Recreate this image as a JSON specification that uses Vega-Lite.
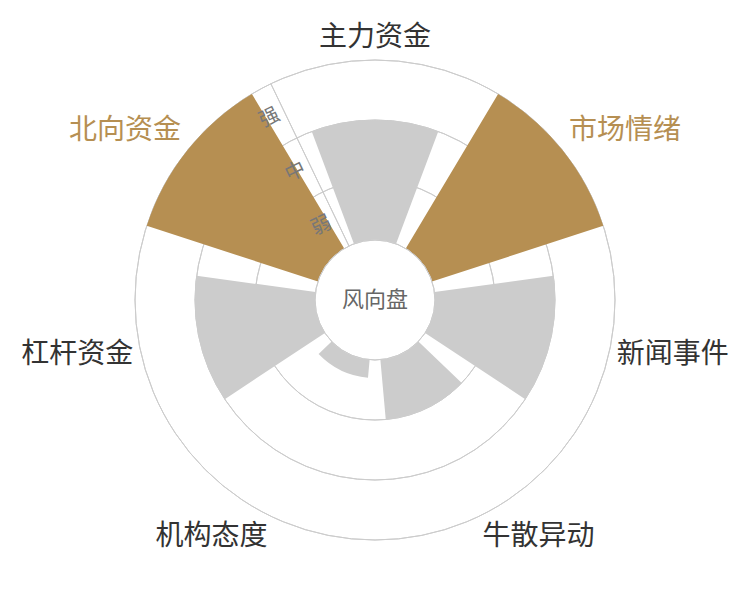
{
  "$schema": "https://vega.github.io/schema/vega-lite/v6.json",
  "width": 750,
  "height": 600,
  "autosize": {"type": "fit", "contains": "padding"},
  "padding": 0,
  "background": "white",
  "config": {
    "view": {"stroke": null},
    "text": {"font": "Noto Sans CJK SC"}
  },
  "datasets": {
    "dims": [
      {"name": "主力资金", "value": 2},
      {"name": "市场情绪", "value": 3},
      {"name": "新闻事件", "value": 2},
      {"name": "牛散异动", "value": 1},
      {"name": "机构态度", "value": 0.3},
      {"name": "杠杆资金", "value": 2},
      {"name": "北向资金", "value": 3}
    ],
    "levels": [
      {"level": 1, "label": "弱"},
      {"level": 2, "label": "中"},
      {"level": 3, "label": "强"}
    ],
    "center": [{"title": "风向盘"}]
  },
  "layer": [
    {
      "data": {"name": "levels"},
      "mark": {"type": "arc", "filled": false, "stroke": "#cccccc", "strokeWidth": 1, "theta": 0, "theta2": 6.2832},
      "encoding": {
        "radius": {"field": "level", "type": "quantitative", "scale": {"type": "linear", "domain": [0, 3], "range": [60, 240], "zero": false, "nice": false}},
        "radius2": {"field": "level"}
      }
    },
    {
      "data": {"name": "center"},
      "mark": {"type": "arc", "filled": false, "stroke": "#cccccc", "strokeWidth": 1, "theta": {"expr": "-PI/7"}, "theta2": {"expr": "-PI/7"}},
      "encoding": {
        "radius": {"datum": 3, "type": "quantitative", "scale": {"type": "linear", "domain": [0, 3], "range": [60, 240], "zero": false, "nice": false}},
        "radius2": {"datum": 0}
      }
    },
    {
      "data": {"name": "dims"},
      "mark": {"type": "arc", "strokeWidth": 0},
      "encoding": {
        "theta": {"field": "name", "type": "nominal", "sort": null, "scale": {"type": "band", "paddingInner": 0.2, "paddingOuter": 0.1, "range": [-0.448799, 5.834386]}},
        "radius": {"field": "value", "type": "quantitative", "scale": {"type": "linear", "domain": [0, 3], "range": [60, 240], "zero": false, "nice": false}},
        "radius2": {"datum": 0},
        "color": {"condition": {"test": "datum.value >= 3", "value": "#b68f52"}, "value": "#cccccc"}
      }
    },
    {
      "data": {"name": "center"},
      "mark": {"type": "arc", "fill": "white", "stroke": "#cccccc", "strokeWidth": 1, "theta": 0, "theta2": 6.2832},
      "encoding": {
        "radius": {"datum": 0, "type": "quantitative", "scale": {"type": "linear", "domain": [0, 3], "range": [60, 240], "zero": false, "nice": false}}
      }
    },
    {
      "data": {"name": "center"},
      "mark": {"type": "text", "fontSize": 22, "color": "#666666"},
      "encoding": {
        "text": {"field": "title"}
      }
    },
    {
      "data": {"name": "levels"},
      "mark": {"type": "text", "theta": {"expr": "-PI/7"}, "radiusOffset": -30, "angle": -25.7, "dx": -16, "fontSize": 20, "color": "#777777"},
      "encoding": {
        "radius": {"field": "level", "type": "quantitative", "scale": {"type": "linear", "domain": [0, 3], "range": [60, 240], "zero": false, "nice": false}},
        "text": {"field": "label"}
      }
    },
    {
      "data": {"name": "dims"},
      "mark": {
        "type": "text",
        "fontSize": 28,
        "radiusOffset": 8,
        "align": {"expr": "sin(scale('theta', datum.name) + bandwidth('theta') / 2) > 0.2 ? 'left' : sin(scale('theta', datum.name) + bandwidth('theta') / 2) < -0.2 ? 'right' : 'center'"},
        "baseline": {"expr": "cos(scale('theta', datum.name) + bandwidth('theta') / 2) > 0.3 ? 'bottom' : cos(scale('theta', datum.name) + bandwidth('theta') / 2) < -0.3 ? 'top' : 'middle'"}
      },
      "encoding": {
        "theta": {"field": "name", "type": "nominal", "sort": null, "bandPosition": 0.5, "scale": {"type": "band", "paddingInner": 0.2, "paddingOuter": 0.1, "range": [-0.448799, 5.834386]}},
        "radius": {"datum": 3, "type": "quantitative", "scale": {"type": "linear", "domain": [0, 3], "range": [60, 240], "zero": false, "nice": false}},
        "text": {"field": "name"},
        "color": {"condition": {"test": "datum.value >= 3", "value": "#b68f52"}, "value": "#333333"}
      }
    }
  ]
}
